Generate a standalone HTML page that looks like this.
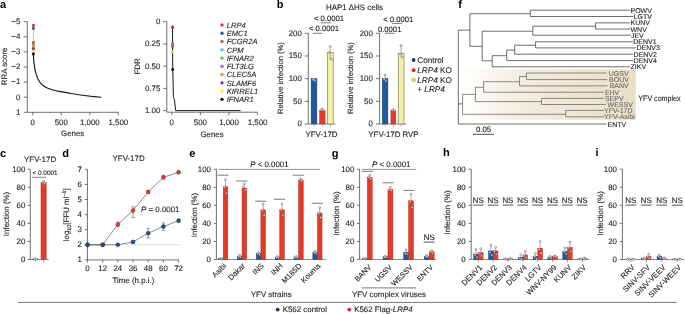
<!DOCTYPE html>
<html><head><meta charset="utf-8"><style>
html,body{margin:0;padding:0;background:#fff;overflow:hidden;}
svg{display:block;font-family:"Liberation Sans",sans-serif;will-change:transform;text-rendering:geometricPrecision;}
</style></head><body>
<svg width="685" height="314" viewBox="0 0 685 314">
<rect width="685" height="314" fill="#fff"/>
<text x="0" y="7.8" font-size="11" font-weight="bold" fill="#000">a</text>
<line x1="27.30" y1="21.70" x2="27.30" y2="112.30" stroke="#4d4d4d" stroke-width="0.8" />
<line x1="23.70" y1="21.70" x2="27.30" y2="21.70" stroke="#4d4d4d" stroke-width="0.8" />
<text x="20.30" y="24.07" font-size="7.9" text-anchor="end" fill="#231f20" stroke="#231f20" stroke-width="0.12" >−5</text>
<line x1="23.70" y1="36.80" x2="27.30" y2="36.80" stroke="#4d4d4d" stroke-width="0.8" />
<text x="20.30" y="39.17" font-size="7.9" text-anchor="end" fill="#231f20" stroke="#231f20" stroke-width="0.12" >−4</text>
<line x1="23.70" y1="51.90" x2="27.30" y2="51.90" stroke="#4d4d4d" stroke-width="0.8" />
<text x="20.30" y="54.27" font-size="7.9" text-anchor="end" fill="#231f20" stroke="#231f20" stroke-width="0.12" >−3</text>
<line x1="23.70" y1="67.00" x2="27.30" y2="67.00" stroke="#4d4d4d" stroke-width="0.8" />
<text x="20.30" y="69.37" font-size="7.9" text-anchor="end" fill="#231f20" stroke="#231f20" stroke-width="0.12" >−2</text>
<line x1="23.70" y1="82.10" x2="27.30" y2="82.10" stroke="#4d4d4d" stroke-width="0.8" />
<text x="20.30" y="84.47" font-size="7.9" text-anchor="end" fill="#231f20" stroke="#231f20" stroke-width="0.12" >−1</text>
<line x1="23.70" y1="97.20" x2="27.30" y2="97.20" stroke="#4d4d4d" stroke-width="0.8" />
<text x="20.30" y="99.57" font-size="7.9" text-anchor="end" fill="#231f20" stroke="#231f20" stroke-width="0.12" >0</text>
<line x1="23.70" y1="112.30" x2="27.30" y2="112.30" stroke="#4d4d4d" stroke-width="0.8" />
<text x="20.30" y="114.67" font-size="7.9" text-anchor="end" fill="#231f20" stroke="#231f20" stroke-width="0.12" >1</text>
<line x1="27.30" y1="112.30" x2="118.30" y2="112.30" stroke="#4d4d4d" stroke-width="0.8" />
<line x1="32.80" y1="112.30" x2="32.80" y2="115.30" stroke="#4d4d4d" stroke-width="0.8" />
<line x1="61.30" y1="112.30" x2="61.30" y2="115.30" stroke="#4d4d4d" stroke-width="0.8" />
<line x1="89.80" y1="112.30" x2="89.80" y2="115.30" stroke="#4d4d4d" stroke-width="0.8" />
<line x1="118.30" y1="112.30" x2="118.30" y2="115.30" stroke="#4d4d4d" stroke-width="0.8" />
<text x="32.80" y="125.00" font-size="7.9" text-anchor="middle" fill="#231f20" stroke="#231f20" stroke-width="0.12" >0</text>
<text x="61.30" y="125.00" font-size="7.9" text-anchor="middle" fill="#231f20" stroke="#231f20" stroke-width="0.12" >500</text>
<text x="89.80" y="125.00" font-size="7.9" text-anchor="middle" fill="#231f20" stroke="#231f20" stroke-width="0.12" >1,000</text>
<text x="118.30" y="125.00" font-size="7.9" text-anchor="middle" fill="#231f20" stroke="#231f20" stroke-width="0.12" >1,500</text>
<text x="72.70" y="136.40" font-size="7.9" text-anchor="middle" fill="#231f20" stroke="#231f20" stroke-width="0.12" >Genes</text>
<text x="0" y="0" font-size="7.9" text-anchor="middle" fill="#231f20" stroke="#231f20" stroke-width="0.12" transform="translate(6.84,66.40) rotate(-90)">RRA score</text>
<line x1="33.40" y1="25.50" x2="33.40" y2="53.80" stroke="#9a9a9a" stroke-width="0.6" />
<path d="M33.40,53.80 C33.44,54.77 33.51,57.78 33.65,59.60 C33.79,61.42 34.01,63.00 34.25,64.70 C34.49,66.40 34.74,68.10 35.10,69.80 C35.46,71.50 35.93,73.40 36.40,74.90 C36.87,76.40 37.27,77.52 37.90,78.80 C38.53,80.08 39.28,81.43 40.20,82.60 C41.12,83.77 42.13,84.85 43.40,85.80 C44.67,86.75 46.22,87.60 47.80,88.30 C49.38,89.00 50.98,89.48 52.90,90.00 C54.82,90.52 56.78,90.92 59.30,91.40 C61.82,91.88 64.47,92.30 68.00,92.90 C71.53,93.50 76.83,94.45 80.50,95.00 C84.17,95.55 86.63,95.82 90.00,96.20 C93.37,96.58 98.92,97.12 100.70,97.30" fill="none" stroke="#1a1a1a" stroke-width="1.15" stroke-linecap="round"/>
<circle cx="33.40" cy="53.90" r="1.55" fill="#111111" stroke="none" stroke-width="0.4"/>
<circle cx="33.40" cy="50.30" r="1.55" fill="#f2e22a" stroke="none" stroke-width="0.4"/>
<circle cx="33.40" cy="48.50" r="1.55" fill="#7a2a9a" stroke="none" stroke-width="0.4"/>
<circle cx="33.40" cy="44.60" r="1.55" fill="#4cc3d9" stroke="none" stroke-width="0.4"/>
<circle cx="33.40" cy="47.00" r="1.55" fill="#b05fc0" stroke="none" stroke-width="0.4"/>
<circle cx="33.40" cy="45.80" r="1.55" fill="#f58a2c" stroke="none" stroke-width="0.4"/>
<circle cx="33.40" cy="43.70" r="1.55" fill="#5db847" stroke="none" stroke-width="0.4"/>
<circle cx="33.40" cy="42.30" r="1.55" fill="#a0704a" stroke="none" stroke-width="0.4"/>
<circle cx="33.40" cy="28.20" r="1.55" fill="#2456a6" stroke="none" stroke-width="0.4"/>
<circle cx="33.40" cy="25.40" r="1.55" fill="#e8302a" stroke="none" stroke-width="0.4"/>
<line x1="166.80" y1="21.70" x2="166.80" y2="112.20" stroke="#4d4d4d" stroke-width="0.8" />
<line x1="163.20" y1="21.70" x2="166.80" y2="21.70" stroke="#4d4d4d" stroke-width="0.8" />
<text x="160.30" y="24.07" font-size="7.9" text-anchor="end" fill="#231f20" stroke="#231f20" stroke-width="0.12" >0</text>
<line x1="163.20" y1="43.92" x2="166.80" y2="43.92" stroke="#4d4d4d" stroke-width="0.8" />
<text x="160.30" y="46.29" font-size="7.9" text-anchor="end" fill="#231f20" stroke="#231f20" stroke-width="0.12" >0.25</text>
<line x1="163.20" y1="66.15" x2="166.80" y2="66.15" stroke="#4d4d4d" stroke-width="0.8" />
<text x="160.30" y="68.52" font-size="7.9" text-anchor="end" fill="#231f20" stroke="#231f20" stroke-width="0.12" >0.50</text>
<line x1="163.20" y1="88.38" x2="166.80" y2="88.38" stroke="#4d4d4d" stroke-width="0.8" />
<text x="160.30" y="90.75" font-size="7.9" text-anchor="end" fill="#231f20" stroke="#231f20" stroke-width="0.12" >0.75</text>
<line x1="163.20" y1="110.60" x2="166.80" y2="110.60" stroke="#4d4d4d" stroke-width="0.8" />
<text x="160.30" y="112.97" font-size="7.9" text-anchor="end" fill="#231f20" stroke="#231f20" stroke-width="0.12" >1.00</text>
<line x1="166.80" y1="112.20" x2="257.60" y2="112.20" stroke="#4d4d4d" stroke-width="0.8" />
<line x1="171.80" y1="112.20" x2="171.80" y2="115.20" stroke="#4d4d4d" stroke-width="0.8" />
<line x1="200.40" y1="112.20" x2="200.40" y2="115.20" stroke="#4d4d4d" stroke-width="0.8" />
<line x1="229.00" y1="112.20" x2="229.00" y2="115.20" stroke="#4d4d4d" stroke-width="0.8" />
<line x1="257.60" y1="112.20" x2="257.60" y2="115.20" stroke="#4d4d4d" stroke-width="0.8" />
<text x="171.80" y="125.00" font-size="7.9" text-anchor="middle" fill="#231f20" stroke="#231f20" stroke-width="0.12" >0</text>
<text x="200.40" y="125.00" font-size="7.9" text-anchor="middle" fill="#231f20" stroke="#231f20" stroke-width="0.12" >500</text>
<text x="229.00" y="125.00" font-size="7.9" text-anchor="middle" fill="#231f20" stroke="#231f20" stroke-width="0.12" >1,000</text>
<text x="257.60" y="125.00" font-size="7.9" text-anchor="middle" fill="#231f20" stroke="#231f20" stroke-width="0.12" >1,500</text>
<text x="212.00" y="136.50" font-size="7.9" text-anchor="middle" fill="#231f20" stroke="#231f20" stroke-width="0.12" >Genes</text>
<text x="0" y="0" font-size="7.9" text-anchor="middle" fill="#231f20" stroke="#231f20" stroke-width="0.12" transform="translate(139.74,66.50) rotate(-90)">FDR</text>
<path d="M172.5,26.8 L172.6,60 L173.4,97.3 L174.4,99.2 L175.7,110.6 L240.5,110.6" fill="none" stroke="#1a1a1a" stroke-width="1.0"/>
<circle cx="172.60" cy="69.60" r="1.5" fill="#111111" stroke="none" stroke-width="0.4"/>
<circle cx="172.60" cy="51.70" r="1.5" fill="#f2e22a" stroke="none" stroke-width="0.4"/>
<circle cx="172.60" cy="46.20" r="1.5" fill="#7a2a9a" stroke="none" stroke-width="0.4"/>
<circle cx="172.60" cy="44.60" r="1.5" fill="#f58a2c" stroke="none" stroke-width="0.4"/>
<circle cx="172.60" cy="45.80" r="1.5" fill="#b05fc0" stroke="none" stroke-width="0.4"/>
<circle cx="172.60" cy="44.00" r="1.5" fill="#5db847" stroke="none" stroke-width="0.4"/>
<circle cx="172.60" cy="43.60" r="1.5" fill="#4cc3d9" stroke="none" stroke-width="0.4"/>
<circle cx="172.60" cy="43.80" r="1.5" fill="#a0704a" stroke="none" stroke-width="0.4"/>
<circle cx="172.60" cy="27.60" r="1.5" fill="#2456a6" stroke="none" stroke-width="0.4"/>
<circle cx="172.60" cy="26.80" r="1.5" fill="#e8302a" stroke="none" stroke-width="0.4"/>
<circle cx="222.00" cy="25.00" r="1.65" fill="#e8302a" stroke="none" stroke-width="0.4"/>
<text x="226.70" y="27.75" font-size="7.6" text-anchor="start" fill="#231f20" stroke="#231f20" stroke-width="0.12" font-style="italic">LRP4</text>
<circle cx="222.00" cy="33.26" r="1.65" fill="#2456a6" stroke="none" stroke-width="0.4"/>
<text x="226.70" y="36.01" font-size="7.6" text-anchor="start" fill="#231f20" stroke="#231f20" stroke-width="0.12" font-style="italic">EMC1</text>
<circle cx="222.00" cy="41.52" r="1.65" fill="#a0704a" stroke="none" stroke-width="0.4"/>
<text x="226.70" y="44.27" font-size="7.6" text-anchor="start" fill="#231f20" stroke="#231f20" stroke-width="0.12" font-style="italic">FCGR2A</text>
<circle cx="222.00" cy="49.78" r="1.65" fill="#4cc3d9" stroke="none" stroke-width="0.4"/>
<text x="226.70" y="52.53" font-size="7.6" text-anchor="start" fill="#231f20" stroke="#231f20" stroke-width="0.12" font-style="italic">CPM</text>
<circle cx="222.00" cy="58.04" r="1.65" fill="#5db847" stroke="none" stroke-width="0.4"/>
<text x="226.70" y="60.79" font-size="7.6" text-anchor="start" fill="#231f20" stroke="#231f20" stroke-width="0.12" font-style="italic">IFNAR2</text>
<circle cx="222.00" cy="66.30" r="1.65" fill="#b05fc0" stroke="none" stroke-width="0.4"/>
<text x="226.70" y="69.05" font-size="7.6" text-anchor="start" fill="#231f20" stroke="#231f20" stroke-width="0.12" font-style="italic">FLT3LG</text>
<circle cx="222.00" cy="74.56" r="1.65" fill="#f58a2c" stroke="none" stroke-width="0.4"/>
<text x="226.70" y="77.31" font-size="7.6" text-anchor="start" fill="#231f20" stroke="#231f20" stroke-width="0.12" font-style="italic">CLEC5A</text>
<circle cx="222.00" cy="82.82" r="1.65" fill="#7a2a9a" stroke="none" stroke-width="0.4"/>
<text x="226.70" y="85.57" font-size="7.6" text-anchor="start" fill="#231f20" stroke="#231f20" stroke-width="0.12" font-style="italic">SLAMF6</text>
<circle cx="222.00" cy="91.08" r="1.65" fill="#f2e22a" stroke="none" stroke-width="0.4"/>
<text x="226.70" y="93.83" font-size="7.6" text-anchor="start" fill="#231f20" stroke="#231f20" stroke-width="0.12" font-style="italic">KIRREL1</text>
<circle cx="222.00" cy="99.34" r="1.65" fill="#111111" stroke="none" stroke-width="0.4"/>
<text x="226.70" y="102.09" font-size="7.6" text-anchor="start" fill="#231f20" stroke="#231f20" stroke-width="0.12" font-style="italic">IFNAR1</text>
<text x="276.8" y="7.8" font-size="11" font-weight="bold" fill="#000">b</text>
<text x="354.50" y="10.40" font-size="7.9" text-anchor="middle" fill="#231f20" stroke="#231f20" stroke-width="0.12" >HAP1 ΔHS cells</text>
<line x1="308.30" y1="33.30" x2="308.30" y2="124.00" stroke="#4d4d4d" stroke-width="0.8" />
<line x1="304.70" y1="124.00" x2="308.30" y2="124.00" stroke="#4d4d4d" stroke-width="0.8" />
<text x="301.80" y="126.37" font-size="7.9" text-anchor="end" fill="#231f20" stroke="#231f20" stroke-width="0.12" >0</text>
<line x1="304.70" y1="101.33" x2="308.30" y2="101.33" stroke="#4d4d4d" stroke-width="0.8" />
<text x="301.80" y="103.70" font-size="7.9" text-anchor="end" fill="#231f20" stroke="#231f20" stroke-width="0.12" >50</text>
<line x1="304.70" y1="78.65" x2="308.30" y2="78.65" stroke="#4d4d4d" stroke-width="0.8" />
<text x="301.80" y="81.02" font-size="7.9" text-anchor="end" fill="#231f20" stroke="#231f20" stroke-width="0.12" >100</text>
<line x1="304.70" y1="55.97" x2="308.30" y2="55.97" stroke="#4d4d4d" stroke-width="0.8" />
<text x="301.80" y="58.34" font-size="7.9" text-anchor="end" fill="#231f20" stroke="#231f20" stroke-width="0.12" >150</text>
<line x1="304.70" y1="33.30" x2="308.30" y2="33.30" stroke="#4d4d4d" stroke-width="0.8" />
<text x="301.80" y="35.67" font-size="7.9" text-anchor="end" fill="#231f20" stroke="#231f20" stroke-width="0.12" >200</text>
<line x1="308.30" y1="124.00" x2="335.40" y2="124.00" stroke="#6e6e6e" stroke-width="0.8" />
<line x1="314.00" y1="124.00" x2="314.00" y2="126.60" stroke="#8a8a8a" stroke-width="0.6" />
<line x1="322.40" y1="124.00" x2="322.40" y2="126.60" stroke="#8a8a8a" stroke-width="0.6" />
<line x1="330.20" y1="124.00" x2="330.20" y2="126.60" stroke="#8a8a8a" stroke-width="0.6" />
<rect x="311.10" y="78.65" width="5.80" height="45.35" fill="#1f5a9b" stroke="#173b66" stroke-width="0.45"/>
<circle cx="314.00" cy="79.10" r="0.95" fill="#ffffff" stroke="#444444" stroke-width="0.45"/>
<circle cx="313.10" cy="79.78" r="0.95" fill="#ffffff" stroke="#444444" stroke-width="0.45"/>
<circle cx="314.90" cy="80.46" r="0.95" fill="#ffffff" stroke="#444444" stroke-width="0.45"/>
<rect x="319.60" y="110.39" width="5.50" height="13.61" fill="#e63a27" stroke="#a8291b" stroke-width="0.45"/>
<line x1="322.35" y1="110.39" x2="322.35" y2="108.81" stroke="#5a5a5a" stroke-width="0.5" />
<circle cx="322.35" cy="108.81" r="0.95" fill="#ffffff" stroke="#444444" stroke-width="0.45"/>
<circle cx="321.45" cy="109.94" r="0.95" fill="#ffffff" stroke="#444444" stroke-width="0.45"/>
<circle cx="323.25" cy="110.62" r="0.95" fill="#ffffff" stroke="#444444" stroke-width="0.45"/>
<rect x="327.30" y="52.35" width="5.90" height="71.65" fill="#f4efa6" stroke="#6f6b55" stroke-width="0.6"/>
<line x1="330.25" y1="59.15" x2="330.25" y2="46.45" stroke="#5a5a5a" stroke-width="0.5" />
<line x1="328.85" y1="46.45" x2="331.65" y2="46.45" stroke="#5a5a5a" stroke-width="0.5" />
<circle cx="330.25" cy="46.45" r="0.95" fill="#ffffff" stroke="#444444" stroke-width="0.45"/>
<circle cx="329.35" cy="52.35" r="0.95" fill="#ffffff" stroke="#444444" stroke-width="0.45"/>
<circle cx="331.15" cy="59.15" r="0.95" fill="#ffffff" stroke="#444444" stroke-width="0.45"/>
<line x1="379.60" y1="33.30" x2="379.60" y2="124.00" stroke="#4d4d4d" stroke-width="0.8" />
<line x1="376.00" y1="124.00" x2="379.60" y2="124.00" stroke="#4d4d4d" stroke-width="0.8" />
<text x="372.80" y="126.37" font-size="7.9" text-anchor="end" fill="#231f20" stroke="#231f20" stroke-width="0.12" >0</text>
<line x1="376.00" y1="101.33" x2="379.60" y2="101.33" stroke="#4d4d4d" stroke-width="0.8" />
<text x="372.80" y="103.70" font-size="7.9" text-anchor="end" fill="#231f20" stroke="#231f20" stroke-width="0.12" >50</text>
<line x1="376.00" y1="78.65" x2="379.60" y2="78.65" stroke="#4d4d4d" stroke-width="0.8" />
<text x="372.80" y="81.02" font-size="7.9" text-anchor="end" fill="#231f20" stroke="#231f20" stroke-width="0.12" >100</text>
<line x1="376.00" y1="55.97" x2="379.60" y2="55.97" stroke="#4d4d4d" stroke-width="0.8" />
<text x="372.80" y="58.34" font-size="7.9" text-anchor="end" fill="#231f20" stroke="#231f20" stroke-width="0.12" >150</text>
<line x1="376.00" y1="33.30" x2="379.60" y2="33.30" stroke="#4d4d4d" stroke-width="0.8" />
<text x="372.80" y="35.67" font-size="7.9" text-anchor="end" fill="#231f20" stroke="#231f20" stroke-width="0.12" >200</text>
<line x1="379.60" y1="124.00" x2="406.50" y2="124.00" stroke="#6e6e6e" stroke-width="0.8" />
<line x1="385.10" y1="124.00" x2="385.10" y2="126.60" stroke="#8a8a8a" stroke-width="0.6" />
<line x1="393.30" y1="124.00" x2="393.30" y2="126.60" stroke="#8a8a8a" stroke-width="0.6" />
<line x1="401.10" y1="124.00" x2="401.10" y2="126.60" stroke="#8a8a8a" stroke-width="0.6" />
<rect x="382.20" y="78.65" width="5.70" height="45.35" fill="#1f5a9b" stroke="#173b66" stroke-width="0.45"/>
<line x1="385.05" y1="78.65" x2="385.05" y2="75.02" stroke="#5a5a5a" stroke-width="0.5" />
<circle cx="385.05" cy="75.02" r="0.95" fill="#ffffff" stroke="#444444" stroke-width="0.45"/>
<circle cx="384.15" cy="79.56" r="0.95" fill="#ffffff" stroke="#444444" stroke-width="0.45"/>
<circle cx="385.95" cy="80.92" r="0.95" fill="#ffffff" stroke="#444444" stroke-width="0.45"/>
<rect x="390.90" y="110.39" width="4.90" height="13.61" fill="#e63a27" stroke="#a8291b" stroke-width="0.45"/>
<line x1="393.35" y1="110.39" x2="393.35" y2="109.71" stroke="#5a5a5a" stroke-width="0.5" />
<circle cx="393.35" cy="109.71" r="0.95" fill="#ffffff" stroke="#444444" stroke-width="0.45"/>
<circle cx="392.45" cy="110.17" r="0.95" fill="#ffffff" stroke="#444444" stroke-width="0.45"/>
<circle cx="394.25" cy="110.62" r="0.95" fill="#ffffff" stroke="#444444" stroke-width="0.45"/>
<rect x="398.20" y="53.25" width="5.80" height="70.75" fill="#f4efa6" stroke="#6f6b55" stroke-width="0.6"/>
<line x1="401.10" y1="56.88" x2="401.10" y2="45.54" stroke="#5a5a5a" stroke-width="0.5" />
<line x1="399.70" y1="45.54" x2="402.50" y2="45.54" stroke="#5a5a5a" stroke-width="0.5" />
<circle cx="401.10" cy="45.54" r="0.95" fill="#ffffff" stroke="#444444" stroke-width="0.45"/>
<circle cx="400.20" cy="53.71" r="0.95" fill="#ffffff" stroke="#444444" stroke-width="0.45"/>
<circle cx="402.00" cy="56.88" r="0.95" fill="#ffffff" stroke="#444444" stroke-width="0.45"/>
<text x="321.50" y="136.80" font-size="7.9" text-anchor="middle" fill="#231f20" stroke="#231f20" stroke-width="0.12" >YFV-17D</text>
<text x="393.50" y="136.80" font-size="7.9" text-anchor="middle" fill="#231f20" stroke="#231f20" stroke-width="0.12" >YFV-17D RVP</text>
<text x="0" y="0" font-size="7.6" text-anchor="middle" fill="#231f20" stroke="#231f20" stroke-width="0.12" transform="translate(283.24,78.00) rotate(-90)">Relative infection (%)</text>
<text x="0" y="0" font-size="7.6" text-anchor="middle" fill="#231f20" stroke="#231f20" stroke-width="0.12" transform="translate(353.24,78.00) rotate(-90)">Relative infection (%)</text>
<text x="313.90" y="20.50" font-size="7.7" text-anchor="start" fill="#231f20" stroke="#231f20" stroke-width="0.12" >&lt; 0.0001</text>
<line x1="321.10" y1="22.80" x2="331.10" y2="22.80" stroke="#5a5a5a" stroke-width="0.8" />
<text x="308.90" y="30.60" font-size="7.7" text-anchor="start" fill="#231f20" stroke="#231f20" stroke-width="0.12" >&lt; 0.0001</text>
<line x1="312.80" y1="33.30" x2="322.00" y2="33.30" stroke="#5a5a5a" stroke-width="0.8" />
<text x="383.20" y="21.50" font-size="7.7" text-anchor="start" fill="#231f20" stroke="#231f20" stroke-width="0.12" >&lt; 0.0001</text>
<line x1="392.10" y1="23.40" x2="401.80" y2="23.40" stroke="#5a5a5a" stroke-width="0.8" />
<text x="377.90" y="31.50" font-size="7.7" text-anchor="start" fill="#231f20" stroke="#231f20" stroke-width="0.12" >0.0001</text>
<line x1="385.10" y1="33.30" x2="394.20" y2="33.30" stroke="#5a5a5a" stroke-width="0.8" />
<circle cx="413.60" cy="60.00" r="1.9" fill="#1f3588" stroke="none" stroke-width="0.4"/>
<text x="417.30" y="62.90" font-size="8.2" text-anchor="start" fill="#231f20" stroke="#231f20" stroke-width="0.12" >Control</text>
<circle cx="413.60" cy="70.20" r="1.9" fill="#d8282a" stroke="none" stroke-width="0.4"/>
<text x="417.30" y="73.10" font-size="8.2" text-anchor="start" fill="#231f20" stroke="#231f20" stroke-width="0.12" ><tspan font-style="italic">LRP4</tspan> KO</text>
<circle cx="413.60" cy="79.80" r="1.9" fill="#f3e33c" stroke="#666" stroke-width="0.4"/>
<text x="417.30" y="82.70" font-size="8.2" text-anchor="start" fill="#231f20" stroke="#231f20" stroke-width="0.12" ><tspan font-style="italic">LRP4</tspan> KO</text>
<text x="417.30" y="92.30" font-size="8.2" text-anchor="start" fill="#231f20" stroke="#231f20" stroke-width="0.12" >+ <tspan font-style="italic">LRP4</tspan></text>
<text x="458.3" y="7.7" font-size="11" font-weight="bold" fill="#000">f</text>
<defs><linearGradient id="yg" x1="0" x2="1" y1="0" y2="0"><stop offset="0" stop-color="#ffffff"/><stop offset="0.35" stop-color="#f3ede0"/><stop offset="1" stop-color="#e9dfc6"/></linearGradient></defs>
<rect x="460.50" y="69.30" width="175.30" height="50.50" fill="url(#yg)" stroke="none" stroke-width="0.5"/>
<line x1="458.30" y1="30.10" x2="458.30" y2="124.00" stroke="#474747" stroke-width="0.8" />
<line x1="458.30" y1="30.10" x2="469.90" y2="30.10" stroke="#474747" stroke-width="0.8" />
<line x1="458.30" y1="103.90" x2="462.60" y2="103.90" stroke="#474747" stroke-width="0.8" />
<line x1="458.30" y1="124.00" x2="606.50" y2="124.00" stroke="#474747" stroke-width="0.8" />
<line x1="469.90" y1="13.70" x2="469.90" y2="46.30" stroke="#474747" stroke-width="0.8" />
<line x1="469.90" y1="13.70" x2="530.30" y2="13.70" stroke="#474747" stroke-width="0.8" />
<line x1="469.90" y1="46.30" x2="482.20" y2="46.30" stroke="#474747" stroke-width="0.8" />
<line x1="530.30" y1="10.20" x2="530.30" y2="16.50" stroke="#474747" stroke-width="0.8" />
<line x1="530.30" y1="10.20" x2="630.20" y2="10.20" stroke="#474747" stroke-width="0.8" />
<line x1="530.30" y1="16.50" x2="633.30" y2="16.50" stroke="#474747" stroke-width="0.8" />
<line x1="482.20" y1="31.20" x2="482.20" y2="60.80" stroke="#474747" stroke-width="0.8" />
<line x1="482.20" y1="31.20" x2="532.80" y2="31.20" stroke="#474747" stroke-width="0.8" />
<line x1="482.20" y1="60.80" x2="492.20" y2="60.80" stroke="#474747" stroke-width="0.8" />
<line x1="532.80" y1="26.20" x2="532.80" y2="35.20" stroke="#474747" stroke-width="0.8" />
<line x1="532.80" y1="26.20" x2="595.60" y2="26.20" stroke="#474747" stroke-width="0.8" />
<line x1="532.80" y1="35.20" x2="630.60" y2="35.20" stroke="#474747" stroke-width="0.8" />
<line x1="595.60" y1="22.90" x2="595.60" y2="29.10" stroke="#474747" stroke-width="0.8" />
<line x1="595.60" y1="22.90" x2="630.20" y2="22.90" stroke="#474747" stroke-width="0.8" />
<line x1="595.60" y1="29.10" x2="630.20" y2="29.10" stroke="#474747" stroke-width="0.8" />
<line x1="492.20" y1="55.70" x2="492.20" y2="66.80" stroke="#474747" stroke-width="0.8" />
<line x1="492.20" y1="55.70" x2="506.70" y2="55.70" stroke="#474747" stroke-width="0.8" />
<line x1="492.20" y1="66.80" x2="630.20" y2="66.80" stroke="#474747" stroke-width="0.8" />
<line x1="506.70" y1="50.10" x2="506.70" y2="60.60" stroke="#474747" stroke-width="0.8" />
<line x1="506.70" y1="50.10" x2="514.70" y2="50.10" stroke="#474747" stroke-width="0.8" />
<line x1="506.70" y1="60.60" x2="633.30" y2="60.60" stroke="#474747" stroke-width="0.8" />
<line x1="514.70" y1="45.20" x2="514.70" y2="54.20" stroke="#474747" stroke-width="0.8" />
<line x1="514.70" y1="45.20" x2="535.60" y2="45.20" stroke="#474747" stroke-width="0.8" />
<line x1="514.70" y1="54.20" x2="633.30" y2="54.20" stroke="#474747" stroke-width="0.8" />
<line x1="535.60" y1="41.80" x2="535.60" y2="47.90" stroke="#474747" stroke-width="0.8" />
<line x1="535.60" y1="41.80" x2="632.90" y2="41.80" stroke="#474747" stroke-width="0.8" />
<line x1="535.60" y1="47.90" x2="636.20" y2="47.90" stroke="#474747" stroke-width="0.8" />
<line x1="462.60" y1="94.40" x2="462.60" y2="114.30" stroke="#6e6e6e" stroke-width="0.8" />
<line x1="462.60" y1="94.40" x2="475.40" y2="94.40" stroke="#6e6e6e" stroke-width="0.8" />
<line x1="462.60" y1="114.30" x2="565.70" y2="114.30" stroke="#6e6e6e" stroke-width="0.8" />
<line x1="475.40" y1="87.30" x2="475.40" y2="101.60" stroke="#6e6e6e" stroke-width="0.8" />
<line x1="475.40" y1="87.30" x2="483.60" y2="87.30" stroke="#6e6e6e" stroke-width="0.8" />
<line x1="475.40" y1="101.60" x2="541.50" y2="101.60" stroke="#6e6e6e" stroke-width="0.8" />
<line x1="483.60" y1="81.70" x2="483.60" y2="92.20" stroke="#6e6e6e" stroke-width="0.8" />
<line x1="483.60" y1="81.70" x2="519.50" y2="81.70" stroke="#6e6e6e" stroke-width="0.8" />
<line x1="483.60" y1="92.20" x2="604.00" y2="92.20" stroke="#6e6e6e" stroke-width="0.8" />
<line x1="519.50" y1="76.60" x2="519.50" y2="85.90" stroke="#6e6e6e" stroke-width="0.8" />
<line x1="519.50" y1="76.60" x2="526.40" y2="76.60" stroke="#6e6e6e" stroke-width="0.8" />
<line x1="519.50" y1="85.90" x2="607.50" y2="85.90" stroke="#6e6e6e" stroke-width="0.8" />
<line x1="526.40" y1="73.00" x2="526.40" y2="79.60" stroke="#6e6e6e" stroke-width="0.8" />
<line x1="526.40" y1="73.00" x2="606.50" y2="73.00" stroke="#6e6e6e" stroke-width="0.8" />
<line x1="526.40" y1="79.60" x2="607.30" y2="79.60" stroke="#6e6e6e" stroke-width="0.8" />
<line x1="541.50" y1="98.40" x2="541.50" y2="104.50" stroke="#6e6e6e" stroke-width="0.8" />
<line x1="541.50" y1="98.40" x2="604.00" y2="98.40" stroke="#6e6e6e" stroke-width="0.8" />
<line x1="541.50" y1="104.50" x2="606.00" y2="104.50" stroke="#6e6e6e" stroke-width="0.8" />
<line x1="565.70" y1="110.40" x2="565.70" y2="116.80" stroke="#6e6e6e" stroke-width="0.8" />
<line x1="565.70" y1="110.40" x2="604.00" y2="110.40" stroke="#6e6e6e" stroke-width="0.8" />
<line x1="565.70" y1="116.80" x2="604.00" y2="116.80" stroke="#6e6e6e" stroke-width="0.8" />
<text x="630.50" y="12.75" font-size="7.0" text-anchor="start" fill="#231f20" stroke="#231f20" stroke-width="0.12" >POWV</text>
<text x="633.60" y="19.05" font-size="7.0" text-anchor="start" fill="#231f20" stroke="#231f20" stroke-width="0.12" >LGTV</text>
<text x="630.50" y="25.45" font-size="7.0" text-anchor="start" fill="#231f20" stroke="#231f20" stroke-width="0.12" >KUNV</text>
<text x="630.50" y="31.65" font-size="7.0" text-anchor="start" fill="#231f20" stroke="#231f20" stroke-width="0.12" >WNV</text>
<text x="630.90" y="37.75" font-size="7.0" text-anchor="start" fill="#231f20" stroke="#231f20" stroke-width="0.12" >JEV</text>
<text x="633.20" y="44.35" font-size="7.0" text-anchor="start" fill="#231f20" stroke="#231f20" stroke-width="0.12" >DENV1</text>
<text x="636.50" y="50.45" font-size="7.0" text-anchor="start" fill="#231f20" stroke="#231f20" stroke-width="0.12" >DENV3</text>
<text x="633.60" y="56.75" font-size="7.0" text-anchor="start" fill="#231f20" stroke="#231f20" stroke-width="0.12" >DENV2</text>
<text x="633.60" y="63.15" font-size="7.0" text-anchor="start" fill="#231f20" stroke="#231f20" stroke-width="0.12" >DENV4</text>
<text x="630.50" y="69.35" font-size="7.0" text-anchor="start" fill="#231f20" stroke="#231f20" stroke-width="0.12" >ZIKV</text>
<text x="607.60" y="126.55" font-size="7.0" text-anchor="start" fill="#231f20" stroke="#231f20" stroke-width="0.12" >ENTV</text>
<text x="608.80" y="75.55" font-size="7.0" text-anchor="start" fill="#6a6a6a" stroke="#6a6a6a" stroke-width="0.12" >UGSV</text>
<text x="609.10" y="82.15" font-size="7.0" text-anchor="start" fill="#6a6a6a" stroke="#6a6a6a" stroke-width="0.12" >BOUV</text>
<text x="609.70" y="88.45" font-size="7.0" text-anchor="start" fill="#6a6a6a" stroke="#6a6a6a" stroke-width="0.12" >BANV</text>
<text x="604.90" y="94.75" font-size="7.0" text-anchor="start" fill="#6a6a6a" stroke="#6a6a6a" stroke-width="0.12" >EHV</text>
<text x="604.90" y="100.95" font-size="7.0" text-anchor="start" fill="#6a6a6a" stroke="#6a6a6a" stroke-width="0.12" >SEPV</text>
<text x="607.60" y="107.05" font-size="7.0" text-anchor="start" fill="#6a6a6a" stroke="#6a6a6a" stroke-width="0.12" >WESSV</text>
<text x="604.10" y="112.95" font-size="7.0" text-anchor="start" fill="#6a6a6a" stroke="#6a6a6a" stroke-width="0.12" >YFV-17D</text>
<text x="604.10" y="119.35" font-size="7.0" text-anchor="start" fill="#6a6a6a" stroke="#6a6a6a" stroke-width="0.12" >YFV-Asibi</text>
<text x="638.30" y="100.95" font-size="7.9" text-anchor="start" fill="#231f20" stroke="#231f20" stroke-width="0.12" textLength="42.3" lengthAdjust="spacingAndGlyphs">YFV complex</text>
<line x1="473.00" y1="134.30" x2="493.90" y2="134.30" stroke="#3a3a3a" stroke-width="0.9" />
<text x="483.50" y="132.40" font-size="7.8" text-anchor="middle" fill="#231f20" stroke="#231f20" stroke-width="0.12" >0.05</text>
<text x="0" y="156.6" font-size="11" font-weight="bold" fill="#000">c</text>
<text x="40.10" y="161.50" font-size="7.9" text-anchor="middle" fill="#231f20" stroke="#231f20" stroke-width="0.12" >YFV-17D</text>
<line x1="30.30" y1="169.20" x2="30.30" y2="259.50" stroke="#4d4d4d" stroke-width="0.8" />
<line x1="27.70" y1="259.50" x2="30.30" y2="259.50" stroke="#4d4d4d" stroke-width="0.8" />
<text x="25.30" y="261.87" font-size="7.9" text-anchor="end" fill="#231f20" stroke="#231f20" stroke-width="0.12" >0</text>
<line x1="27.70" y1="241.44" x2="30.30" y2="241.44" stroke="#4d4d4d" stroke-width="0.8" />
<text x="25.30" y="243.81" font-size="7.9" text-anchor="end" fill="#231f20" stroke="#231f20" stroke-width="0.12" >20</text>
<line x1="27.70" y1="223.38" x2="30.30" y2="223.38" stroke="#4d4d4d" stroke-width="0.8" />
<text x="25.30" y="225.75" font-size="7.9" text-anchor="end" fill="#231f20" stroke="#231f20" stroke-width="0.12" >40</text>
<line x1="27.70" y1="205.32" x2="30.30" y2="205.32" stroke="#4d4d4d" stroke-width="0.8" />
<text x="25.30" y="207.69" font-size="7.9" text-anchor="end" fill="#231f20" stroke="#231f20" stroke-width="0.12" >60</text>
<line x1="27.70" y1="187.26" x2="30.30" y2="187.26" stroke="#4d4d4d" stroke-width="0.8" />
<text x="25.30" y="189.63" font-size="7.9" text-anchor="end" fill="#231f20" stroke="#231f20" stroke-width="0.12" >80</text>
<line x1="27.70" y1="169.20" x2="30.30" y2="169.20" stroke="#4d4d4d" stroke-width="0.8" />
<text x="25.30" y="171.57" font-size="7.9" text-anchor="end" fill="#231f20" stroke="#231f20" stroke-width="0.12" >100</text>
<line x1="30.30" y1="259.50" x2="48.70" y2="259.50" stroke="#6e6e6e" stroke-width="0.8" />
<line x1="35.40" y1="259.50" x2="35.40" y2="262.00" stroke="#6e6e6e" stroke-width="0.6" />
<line x1="43.60" y1="259.50" x2="43.60" y2="262.00" stroke="#6e6e6e" stroke-width="0.6" />
<rect x="32.80" y="258.96" width="5.20" height="0.54" fill="#1f5a9b" stroke="#173b66" stroke-width="0.45"/>
<circle cx="35.40" cy="258.78" r="0.95" fill="#ffffff" stroke="#444444" stroke-width="0.45"/>
<circle cx="34.50" cy="259.05" r="0.95" fill="#ffffff" stroke="#444444" stroke-width="0.45"/>
<circle cx="36.30" cy="259.14" r="0.95" fill="#ffffff" stroke="#444444" stroke-width="0.45"/>
<rect x="41.00" y="182.75" width="5.20" height="76.75" fill="#e63a27" stroke="#a8291b" stroke-width="0.45"/>
<line x1="43.60" y1="182.75" x2="43.60" y2="181.39" stroke="#5a5a5a" stroke-width="0.5" />
<circle cx="43.60" cy="181.39" r="0.95" fill="#ffffff" stroke="#444444" stroke-width="0.45"/>
<circle cx="42.70" cy="182.29" r="0.95" fill="#ffffff" stroke="#444444" stroke-width="0.45"/>
<circle cx="44.50" cy="183.65" r="0.95" fill="#ffffff" stroke="#444444" stroke-width="0.45"/>
<text x="32.50" y="175.00" font-size="6.4" text-anchor="start" fill="#231f20" stroke="#231f20" stroke-width="0.12" >&lt; 0.0001</text>
<line x1="32.10" y1="177.30" x2="46.00" y2="177.30" stroke="#5a5a5a" stroke-width="0.75" />
<text x="0" y="0" font-size="7.9" text-anchor="middle" fill="#231f20" stroke="#231f20" stroke-width="0.12" transform="translate(9.14,214.00) rotate(-90)">Infection (%)</text>
<text x="62.3" y="156.6" font-size="11" font-weight="bold" fill="#000">d</text>
<text x="128.60" y="161.30" font-size="7.9" text-anchor="middle" fill="#231f20" stroke="#231f20" stroke-width="0.12" >YFV-17D</text>
<line x1="87.40" y1="169.30" x2="87.40" y2="259.90" stroke="#4d4d4d" stroke-width="0.8" />
<line x1="84.80" y1="259.90" x2="87.40" y2="259.90" stroke="#4d4d4d" stroke-width="0.8" />
<text x="82.00" y="262.27" font-size="7.9" text-anchor="end" fill="#231f20" stroke="#231f20" stroke-width="0.12" >1</text>
<line x1="84.80" y1="244.80" x2="87.40" y2="244.80" stroke="#4d4d4d" stroke-width="0.8" />
<text x="82.00" y="247.17" font-size="7.9" text-anchor="end" fill="#231f20" stroke="#231f20" stroke-width="0.12" >2</text>
<line x1="84.80" y1="229.70" x2="87.40" y2="229.70" stroke="#4d4d4d" stroke-width="0.8" />
<text x="82.00" y="232.07" font-size="7.9" text-anchor="end" fill="#231f20" stroke="#231f20" stroke-width="0.12" >3</text>
<line x1="84.80" y1="214.60" x2="87.40" y2="214.60" stroke="#4d4d4d" stroke-width="0.8" />
<text x="82.00" y="216.97" font-size="7.9" text-anchor="end" fill="#231f20" stroke="#231f20" stroke-width="0.12" >4</text>
<line x1="84.80" y1="199.50" x2="87.40" y2="199.50" stroke="#4d4d4d" stroke-width="0.8" />
<text x="82.00" y="201.87" font-size="7.9" text-anchor="end" fill="#231f20" stroke="#231f20" stroke-width="0.12" >5</text>
<line x1="84.80" y1="184.40" x2="87.40" y2="184.40" stroke="#4d4d4d" stroke-width="0.8" />
<text x="82.00" y="186.77" font-size="7.9" text-anchor="end" fill="#231f20" stroke="#231f20" stroke-width="0.12" >6</text>
<line x1="84.80" y1="169.30" x2="87.40" y2="169.30" stroke="#4d4d4d" stroke-width="0.8" />
<text x="82.00" y="171.67" font-size="7.9" text-anchor="end" fill="#231f20" stroke="#231f20" stroke-width="0.12" >7</text>
<line x1="87.40" y1="259.90" x2="178.58" y2="259.90" stroke="#4d4d4d" stroke-width="0.8" />
<line x1="87.50" y1="259.90" x2="87.50" y2="262.50" stroke="#4d4d4d" stroke-width="0.8" />
<line x1="102.68" y1="259.90" x2="102.68" y2="262.50" stroke="#4d4d4d" stroke-width="0.8" />
<line x1="117.86" y1="259.90" x2="117.86" y2="262.50" stroke="#4d4d4d" stroke-width="0.8" />
<line x1="133.04" y1="259.90" x2="133.04" y2="262.50" stroke="#4d4d4d" stroke-width="0.8" />
<line x1="148.22" y1="259.90" x2="148.22" y2="262.50" stroke="#4d4d4d" stroke-width="0.8" />
<line x1="163.40" y1="259.90" x2="163.40" y2="262.50" stroke="#4d4d4d" stroke-width="0.8" />
<line x1="178.58" y1="259.90" x2="178.58" y2="262.50" stroke="#4d4d4d" stroke-width="0.8" />
<text x="87.50" y="271.00" font-size="7.9" text-anchor="middle" fill="#231f20" stroke="#231f20" stroke-width="0.12" >0</text>
<text x="102.68" y="271.00" font-size="7.9" text-anchor="middle" fill="#231f20" stroke="#231f20" stroke-width="0.12" >12</text>
<text x="117.86" y="271.00" font-size="7.9" text-anchor="middle" fill="#231f20" stroke="#231f20" stroke-width="0.12" >24</text>
<text x="133.04" y="271.00" font-size="7.9" text-anchor="middle" fill="#231f20" stroke="#231f20" stroke-width="0.12" >36</text>
<text x="148.22" y="271.00" font-size="7.9" text-anchor="middle" fill="#231f20" stroke="#231f20" stroke-width="0.12" >48</text>
<text x="163.40" y="271.00" font-size="7.9" text-anchor="middle" fill="#231f20" stroke="#231f20" stroke-width="0.12" >60</text>
<text x="178.58" y="271.00" font-size="7.9" text-anchor="middle" fill="#231f20" stroke="#231f20" stroke-width="0.12" >72</text>
<text x="133.40" y="283.00" font-size="7.9" text-anchor="middle" fill="#231f20" stroke="#231f20" stroke-width="0.12" >Time (h.p.i.)</text>
<text x="0" y="0" font-size="7.9" text-anchor="middle" fill="#231f20" stroke="#231f20" stroke-width="0.12" transform="translate(69.0,214.7) rotate(-90)">log<tspan font-size="5.4" dy="1.6">10</tspan><tspan dy="-1.6">[FFU ml</tspan><tspan font-size="5.4" dy="-2.8">−1</tspan><tspan dy="2.8">]</tspan></text>
<line x1="87.40" y1="244.80" x2="181.00" y2="244.80" stroke="#9a9a9a" stroke-width="0.7" stroke-dasharray="0.9,1.1"/>
<polyline points="87.50,244.80 102.68,244.80 117.86,224.42 133.04,210.52 148.22,191.95 163.40,177.30 178.58,172.32" fill="none" stroke="#555" stroke-width="0.7"/>
<polyline points="87.50,244.80 102.68,244.80 117.86,244.80 133.04,241.93 148.22,233.17 163.40,226.53 178.58,220.64" fill="none" stroke="#555" stroke-width="0.7"/>
<line x1="117.86" y1="222.15" x2="117.86" y2="226.68" stroke="#555" stroke-width="0.6" />
<line x1="116.26" y1="222.15" x2="119.46" y2="222.15" stroke="#555" stroke-width="0.6" />
<line x1="116.26" y1="226.68" x2="119.46" y2="226.68" stroke="#555" stroke-width="0.6" />
<line x1="133.04" y1="206.75" x2="133.04" y2="217.62" stroke="#555" stroke-width="0.6" />
<line x1="131.44" y1="206.75" x2="134.64" y2="206.75" stroke="#555" stroke-width="0.6" />
<line x1="131.44" y1="217.62" x2="134.64" y2="217.62" stroke="#555" stroke-width="0.6" />
<line x1="148.22" y1="190.44" x2="148.22" y2="193.46" stroke="#555" stroke-width="0.6" />
<line x1="146.62" y1="190.44" x2="149.82" y2="190.44" stroke="#555" stroke-width="0.6" />
<line x1="146.62" y1="193.46" x2="149.82" y2="193.46" stroke="#555" stroke-width="0.6" />
<line x1="163.40" y1="175.34" x2="163.40" y2="179.12" stroke="#555" stroke-width="0.6" />
<line x1="161.80" y1="175.34" x2="165.00" y2="175.34" stroke="#555" stroke-width="0.6" />
<line x1="161.80" y1="179.12" x2="165.00" y2="179.12" stroke="#555" stroke-width="0.6" />
<line x1="148.22" y1="228.49" x2="148.22" y2="238.00" stroke="#555" stroke-width="0.6" />
<line x1="146.62" y1="228.49" x2="149.82" y2="228.49" stroke="#555" stroke-width="0.6" />
<line x1="146.62" y1="238.00" x2="149.82" y2="238.00" stroke="#555" stroke-width="0.6" />
<line x1="163.40" y1="222.91" x2="163.40" y2="230.46" stroke="#555" stroke-width="0.6" />
<line x1="161.80" y1="222.91" x2="165.00" y2="222.91" stroke="#555" stroke-width="0.6" />
<line x1="161.80" y1="230.46" x2="165.00" y2="230.46" stroke="#555" stroke-width="0.6" />
<line x1="178.58" y1="219.13" x2="178.58" y2="222.15" stroke="#555" stroke-width="0.6" />
<line x1="176.98" y1="219.13" x2="180.18" y2="219.13" stroke="#555" stroke-width="0.6" />
<line x1="176.98" y1="222.15" x2="180.18" y2="222.15" stroke="#555" stroke-width="0.6" />
<line x1="133.04" y1="240.87" x2="133.04" y2="242.99" stroke="#555" stroke-width="0.6" />
<line x1="131.44" y1="240.87" x2="134.64" y2="240.87" stroke="#555" stroke-width="0.6" />
<line x1="131.44" y1="242.99" x2="134.64" y2="242.99" stroke="#555" stroke-width="0.6" />
<circle cx="87.50" cy="244.80" r="1.95" fill="#e63a27" stroke="#6a2018" stroke-width="0.45"/>
<circle cx="102.68" cy="244.80" r="1.95" fill="#e63a27" stroke="#6a2018" stroke-width="0.45"/>
<circle cx="117.86" cy="224.42" r="1.95" fill="#e63a27" stroke="#6a2018" stroke-width="0.45"/>
<circle cx="133.04" cy="210.52" r="1.95" fill="#e63a27" stroke="#6a2018" stroke-width="0.45"/>
<circle cx="148.22" cy="191.95" r="1.95" fill="#e63a27" stroke="#6a2018" stroke-width="0.45"/>
<circle cx="163.40" cy="177.30" r="1.95" fill="#e63a27" stroke="#6a2018" stroke-width="0.45"/>
<circle cx="178.58" cy="172.32" r="1.95" fill="#e63a27" stroke="#6a2018" stroke-width="0.45"/>
<circle cx="87.50" cy="244.80" r="1.95" fill="#22508f" stroke="#102848" stroke-width="0.45"/>
<circle cx="102.68" cy="244.80" r="1.95" fill="#22508f" stroke="#102848" stroke-width="0.45"/>
<circle cx="117.86" cy="244.80" r="1.95" fill="#22508f" stroke="#102848" stroke-width="0.45"/>
<circle cx="133.04" cy="241.93" r="1.95" fill="#22508f" stroke="#102848" stroke-width="0.45"/>
<circle cx="148.22" cy="233.17" r="1.95" fill="#22508f" stroke="#102848" stroke-width="0.45"/>
<circle cx="163.40" cy="226.53" r="1.95" fill="#22508f" stroke="#102848" stroke-width="0.45"/>
<circle cx="178.58" cy="220.64" r="1.95" fill="#22508f" stroke="#102848" stroke-width="0.45"/>
<text x="141.10" y="212.00" font-size="7.9" text-anchor="start" fill="#231f20" stroke="#231f20" stroke-width="0.12" ><tspan font-style="italic">P</tspan> = 0.0001</text>
<text x="189.2" y="156.6" font-size="11" font-weight="bold" fill="#000">e</text>
<line x1="216.40" y1="169.20" x2="216.40" y2="259.50" stroke="#4d4d4d" stroke-width="0.8" />
<line x1="213.80" y1="259.50" x2="216.40" y2="259.50" stroke="#4d4d4d" stroke-width="0.8" />
<text x="211.00" y="261.87" font-size="7.9" text-anchor="end" fill="#231f20" stroke="#231f20" stroke-width="0.12" >0</text>
<line x1="213.80" y1="241.44" x2="216.40" y2="241.44" stroke="#4d4d4d" stroke-width="0.8" />
<text x="211.00" y="243.81" font-size="7.9" text-anchor="end" fill="#231f20" stroke="#231f20" stroke-width="0.12" >20</text>
<line x1="213.80" y1="223.38" x2="216.40" y2="223.38" stroke="#4d4d4d" stroke-width="0.8" />
<text x="211.00" y="225.75" font-size="7.9" text-anchor="end" fill="#231f20" stroke="#231f20" stroke-width="0.12" >40</text>
<line x1="213.80" y1="205.32" x2="216.40" y2="205.32" stroke="#4d4d4d" stroke-width="0.8" />
<text x="211.00" y="207.69" font-size="7.9" text-anchor="end" fill="#231f20" stroke="#231f20" stroke-width="0.12" >60</text>
<line x1="213.80" y1="187.26" x2="216.40" y2="187.26" stroke="#4d4d4d" stroke-width="0.8" />
<text x="211.00" y="189.63" font-size="7.9" text-anchor="end" fill="#231f20" stroke="#231f20" stroke-width="0.12" >80</text>
<line x1="213.80" y1="169.20" x2="216.40" y2="169.20" stroke="#4d4d4d" stroke-width="0.8" />
<text x="211.00" y="171.57" font-size="7.9" text-anchor="end" fill="#231f20" stroke="#231f20" stroke-width="0.12" >100</text>
<line x1="216.40" y1="259.50" x2="325.60" y2="259.50" stroke="#6e6e6e" stroke-width="0.8" />
<rect x="218.60" y="258.60" width="4.60" height="0.90" fill="#1f5a9b" stroke="#173b66" stroke-width="0.45"/>
<circle cx="220.90" cy="258.42" r="0.95" fill="#ffffff" stroke="#444444" stroke-width="0.45"/>
<circle cx="220.00" cy="258.69" r="0.95" fill="#ffffff" stroke="#444444" stroke-width="0.45"/>
<circle cx="221.80" cy="258.87" r="0.95" fill="#ffffff" stroke="#444444" stroke-width="0.45"/>
<rect x="223.20" y="186.81" width="4.60" height="72.69" fill="#e63a27" stroke="#a8291b" stroke-width="0.45"/>
<line x1="225.50" y1="186.81" x2="225.50" y2="179.58" stroke="#5a5a5a" stroke-width="0.5" />
<circle cx="225.50" cy="179.58" r="0.95" fill="#ffffff" stroke="#444444" stroke-width="0.45"/>
<circle cx="224.60" cy="187.26" r="0.95" fill="#ffffff" stroke="#444444" stroke-width="0.45"/>
<circle cx="226.40" cy="193.13" r="0.95" fill="#ffffff" stroke="#444444" stroke-width="0.45"/>
<text x="0" y="0" font-size="7.6" text-anchor="end" fill="#231f20" stroke="#231f20" stroke-width="0.12" transform="translate(226.70,266.40) rotate(-45)">Asibi</text>
<rect x="237.45" y="256.34" width="4.60" height="3.16" fill="#1f5a9b" stroke="#173b66" stroke-width="0.45"/>
<line x1="239.75" y1="256.34" x2="239.75" y2="255.35" stroke="#5a5a5a" stroke-width="0.5" />
<circle cx="239.75" cy="255.35" r="0.95" fill="#ffffff" stroke="#444444" stroke-width="0.45"/>
<circle cx="238.85" cy="256.43" r="0.95" fill="#ffffff" stroke="#444444" stroke-width="0.45"/>
<circle cx="240.65" cy="257.15" r="0.95" fill="#ffffff" stroke="#444444" stroke-width="0.45"/>
<rect x="242.05" y="188.16" width="4.60" height="71.34" fill="#e63a27" stroke="#a8291b" stroke-width="0.45"/>
<line x1="244.35" y1="188.16" x2="244.35" y2="183.65" stroke="#5a5a5a" stroke-width="0.5" />
<circle cx="244.35" cy="183.65" r="0.95" fill="#ffffff" stroke="#444444" stroke-width="0.45"/>
<circle cx="243.45" cy="186.81" r="0.95" fill="#ffffff" stroke="#444444" stroke-width="0.45"/>
<circle cx="245.25" cy="189.97" r="0.95" fill="#ffffff" stroke="#444444" stroke-width="0.45"/>
<text x="0" y="0" font-size="7.6" text-anchor="end" fill="#231f20" stroke="#231f20" stroke-width="0.12" transform="translate(245.55,266.40) rotate(-45)">Dakar</text>
<rect x="256.30" y="253.63" width="4.60" height="5.87" fill="#1f5a9b" stroke="#173b66" stroke-width="0.45"/>
<line x1="258.60" y1="253.63" x2="258.60" y2="252.46" stroke="#5a5a5a" stroke-width="0.5" />
<circle cx="258.60" cy="252.46" r="0.95" fill="#ffffff" stroke="#444444" stroke-width="0.45"/>
<circle cx="257.70" cy="253.72" r="0.95" fill="#ffffff" stroke="#444444" stroke-width="0.45"/>
<circle cx="259.50" cy="254.62" r="0.95" fill="#ffffff" stroke="#444444" stroke-width="0.45"/>
<rect x="260.90" y="209.84" width="4.60" height="49.66" fill="#e63a27" stroke="#a8291b" stroke-width="0.45"/>
<line x1="263.20" y1="209.84" x2="263.20" y2="203.97" stroke="#5a5a5a" stroke-width="0.5" />
<circle cx="263.20" cy="203.97" r="0.95" fill="#ffffff" stroke="#444444" stroke-width="0.45"/>
<circle cx="262.30" cy="210.29" r="0.95" fill="#ffffff" stroke="#444444" stroke-width="0.45"/>
<circle cx="264.10" cy="215.25" r="0.95" fill="#ffffff" stroke="#444444" stroke-width="0.45"/>
<text x="0" y="0" font-size="7.6" text-anchor="end" fill="#231f20" stroke="#231f20" stroke-width="0.12" transform="translate(264.40,266.40) rotate(-45)">INS</text>
<rect x="275.15" y="257.24" width="4.60" height="2.26" fill="#1f5a9b" stroke="#173b66" stroke-width="0.45"/>
<line x1="277.45" y1="257.24" x2="277.45" y2="256.43" stroke="#5a5a5a" stroke-width="0.5" />
<circle cx="277.45" cy="256.43" r="0.95" fill="#ffffff" stroke="#444444" stroke-width="0.45"/>
<circle cx="276.55" cy="257.33" r="0.95" fill="#ffffff" stroke="#444444" stroke-width="0.45"/>
<circle cx="278.35" cy="257.87" r="0.95" fill="#ffffff" stroke="#444444" stroke-width="0.45"/>
<rect x="279.75" y="209.84" width="4.60" height="49.66" fill="#e63a27" stroke="#a8291b" stroke-width="0.45"/>
<line x1="282.05" y1="209.84" x2="282.05" y2="203.97" stroke="#5a5a5a" stroke-width="0.5" />
<circle cx="282.05" cy="203.97" r="0.95" fill="#ffffff" stroke="#444444" stroke-width="0.45"/>
<circle cx="281.15" cy="209.84" r="0.95" fill="#ffffff" stroke="#444444" stroke-width="0.45"/>
<circle cx="282.95" cy="215.25" r="0.95" fill="#ffffff" stroke="#444444" stroke-width="0.45"/>
<text x="0" y="0" font-size="7.6" text-anchor="end" fill="#231f20" stroke="#231f20" stroke-width="0.12" transform="translate(283.25,266.40) rotate(-45)">INH</text>
<rect x="294.00" y="257.24" width="4.60" height="2.26" fill="#1f5a9b" stroke="#173b66" stroke-width="0.45"/>
<line x1="296.30" y1="257.24" x2="296.30" y2="256.43" stroke="#5a5a5a" stroke-width="0.5" />
<circle cx="296.30" cy="256.43" r="0.95" fill="#ffffff" stroke="#444444" stroke-width="0.45"/>
<circle cx="295.40" cy="257.33" r="0.95" fill="#ffffff" stroke="#444444" stroke-width="0.45"/>
<circle cx="297.20" cy="257.87" r="0.95" fill="#ffffff" stroke="#444444" stroke-width="0.45"/>
<rect x="298.60" y="180.04" width="4.60" height="79.46" fill="#e63a27" stroke="#a8291b" stroke-width="0.45"/>
<line x1="300.90" y1="180.04" x2="300.90" y2="178.95" stroke="#5a5a5a" stroke-width="0.5" />
<circle cx="300.90" cy="178.95" r="0.95" fill="#ffffff" stroke="#444444" stroke-width="0.45"/>
<circle cx="300.00" cy="180.04" r="0.95" fill="#ffffff" stroke="#444444" stroke-width="0.45"/>
<circle cx="301.80" cy="180.76" r="0.95" fill="#ffffff" stroke="#444444" stroke-width="0.45"/>
<text x="0" y="0" font-size="7.6" text-anchor="end" fill="#231f20" stroke="#231f20" stroke-width="0.12" transform="translate(302.10,266.40) rotate(-45)">M185D</text>
<rect x="312.85" y="252.28" width="4.60" height="7.22" fill="#1f5a9b" stroke="#173b66" stroke-width="0.45"/>
<line x1="315.15" y1="252.28" x2="315.15" y2="251.10" stroke="#5a5a5a" stroke-width="0.5" />
<circle cx="315.15" cy="251.10" r="0.95" fill="#ffffff" stroke="#444444" stroke-width="0.45"/>
<circle cx="314.25" cy="252.46" r="0.95" fill="#ffffff" stroke="#444444" stroke-width="0.45"/>
<circle cx="316.05" cy="253.18" r="0.95" fill="#ffffff" stroke="#444444" stroke-width="0.45"/>
<rect x="317.45" y="213.00" width="4.60" height="46.50" fill="#e63a27" stroke="#a8291b" stroke-width="0.45"/>
<line x1="319.75" y1="213.00" x2="319.75" y2="207.58" stroke="#5a5a5a" stroke-width="0.5" />
<circle cx="319.75" cy="207.58" r="0.95" fill="#ffffff" stroke="#444444" stroke-width="0.45"/>
<circle cx="318.85" cy="213.45" r="0.95" fill="#ffffff" stroke="#444444" stroke-width="0.45"/>
<circle cx="320.65" cy="217.51" r="0.95" fill="#ffffff" stroke="#444444" stroke-width="0.45"/>
<text x="0" y="0" font-size="7.6" text-anchor="end" fill="#231f20" stroke="#231f20" stroke-width="0.12" transform="translate(320.95,266.40) rotate(-45)">Kouma</text>
<line x1="217.40" y1="175.20" x2="228.50" y2="175.20" stroke="#5a5a5a" stroke-width="0.8" />
<line x1="236.25" y1="181.00" x2="247.35" y2="181.00" stroke="#5a5a5a" stroke-width="0.8" />
<line x1="255.10" y1="201.20" x2="266.20" y2="201.20" stroke="#5a5a5a" stroke-width="0.8" />
<line x1="273.95" y1="199.30" x2="285.05" y2="199.30" stroke="#5a5a5a" stroke-width="0.8" />
<line x1="292.80" y1="175.20" x2="303.90" y2="175.20" stroke="#5a5a5a" stroke-width="0.8" />
<line x1="311.65" y1="203.30" x2="322.75" y2="203.30" stroke="#5a5a5a" stroke-width="0.8" />
<line x1="218.90" y1="169.40" x2="319.80" y2="169.40" stroke="#777" stroke-width="0.8" />
<text x="250.20" y="167.00" font-size="7.9" text-anchor="start" fill="#231f20" stroke="#231f20" stroke-width="0.12" ><tspan font-style="italic">P</tspan> &lt; 0.0001</text>
<text x="271.20" y="297.30" font-size="7.9" text-anchor="middle" fill="#231f20" stroke="#231f20" stroke-width="0.12" >YFV strains</text>
<text x="0" y="0" font-size="7.9" text-anchor="middle" fill="#231f20" stroke="#231f20" stroke-width="0.12" transform="translate(197.04,215.10) rotate(-90)">Infection (%)</text>
<text x="331.8" y="156.6" font-size="11" font-weight="bold" fill="#000">g</text>
<line x1="359.60" y1="169.20" x2="359.60" y2="259.50" stroke="#4d4d4d" stroke-width="0.8" />
<line x1="357.00" y1="259.50" x2="359.60" y2="259.50" stroke="#4d4d4d" stroke-width="0.8" />
<text x="354.30" y="261.87" font-size="7.9" text-anchor="end" fill="#231f20" stroke="#231f20" stroke-width="0.12" >0</text>
<line x1="357.00" y1="241.44" x2="359.60" y2="241.44" stroke="#4d4d4d" stroke-width="0.8" />
<text x="354.30" y="243.81" font-size="7.9" text-anchor="end" fill="#231f20" stroke="#231f20" stroke-width="0.12" >20</text>
<line x1="357.00" y1="223.38" x2="359.60" y2="223.38" stroke="#4d4d4d" stroke-width="0.8" />
<text x="354.30" y="225.75" font-size="7.9" text-anchor="end" fill="#231f20" stroke="#231f20" stroke-width="0.12" >40</text>
<line x1="357.00" y1="205.32" x2="359.60" y2="205.32" stroke="#4d4d4d" stroke-width="0.8" />
<text x="354.30" y="207.69" font-size="7.9" text-anchor="end" fill="#231f20" stroke="#231f20" stroke-width="0.12" >60</text>
<line x1="357.00" y1="187.26" x2="359.60" y2="187.26" stroke="#4d4d4d" stroke-width="0.8" />
<text x="354.30" y="189.63" font-size="7.9" text-anchor="end" fill="#231f20" stroke="#231f20" stroke-width="0.12" >80</text>
<line x1="357.00" y1="169.20" x2="359.60" y2="169.20" stroke="#4d4d4d" stroke-width="0.8" />
<text x="354.30" y="171.57" font-size="7.9" text-anchor="end" fill="#231f20" stroke="#231f20" stroke-width="0.12" >100</text>
<line x1="359.60" y1="259.50" x2="436.10" y2="259.50" stroke="#6e6e6e" stroke-width="0.8" />
<rect x="362.40" y="258.60" width="4.90" height="0.90" fill="#1f5a9b" stroke="#173b66" stroke-width="0.45"/>
<circle cx="364.85" cy="258.42" r="0.95" fill="#ffffff" stroke="#444444" stroke-width="0.45"/>
<circle cx="363.95" cy="258.69" r="0.95" fill="#ffffff" stroke="#444444" stroke-width="0.45"/>
<circle cx="365.75" cy="258.87" r="0.95" fill="#ffffff" stroke="#444444" stroke-width="0.45"/>
<rect x="367.30" y="177.33" width="4.90" height="82.17" fill="#e63a27" stroke="#a8291b" stroke-width="0.45"/>
<line x1="369.75" y1="177.33" x2="369.75" y2="175.07" stroke="#5a5a5a" stroke-width="0.5" />
<circle cx="369.75" cy="175.07" r="0.95" fill="#ffffff" stroke="#444444" stroke-width="0.45"/>
<circle cx="368.85" cy="177.33" r="0.95" fill="#ffffff" stroke="#444444" stroke-width="0.45"/>
<circle cx="370.65" cy="178.68" r="0.95" fill="#ffffff" stroke="#444444" stroke-width="0.45"/>
<text x="0" y="0" font-size="7.35" text-anchor="end" fill="#231f20" stroke="#231f20" stroke-width="0.12" transform="translate(371.80,267.80) rotate(-45)">BANV</text>
<rect x="383.05" y="256.79" width="4.90" height="2.71" fill="#1f5a9b" stroke="#173b66" stroke-width="0.45"/>
<line x1="385.50" y1="256.79" x2="385.50" y2="256.07" stroke="#5a5a5a" stroke-width="0.5" />
<circle cx="385.50" cy="256.07" r="0.95" fill="#ffffff" stroke="#444444" stroke-width="0.45"/>
<circle cx="384.60" cy="256.97" r="0.95" fill="#ffffff" stroke="#444444" stroke-width="0.45"/>
<circle cx="386.40" cy="257.33" r="0.95" fill="#ffffff" stroke="#444444" stroke-width="0.45"/>
<rect x="387.95" y="189.52" width="4.90" height="69.98" fill="#e63a27" stroke="#a8291b" stroke-width="0.45"/>
<line x1="390.40" y1="189.52" x2="390.40" y2="187.26" stroke="#5a5a5a" stroke-width="0.5" />
<circle cx="390.40" cy="187.26" r="0.95" fill="#ffffff" stroke="#444444" stroke-width="0.45"/>
<circle cx="389.50" cy="189.52" r="0.95" fill="#ffffff" stroke="#444444" stroke-width="0.45"/>
<circle cx="391.30" cy="190.42" r="0.95" fill="#ffffff" stroke="#444444" stroke-width="0.45"/>
<text x="0" y="0" font-size="7.35" text-anchor="end" fill="#231f20" stroke="#231f20" stroke-width="0.12" transform="translate(392.45,267.80) rotate(-45)">UGSV</text>
<rect x="403.70" y="252.28" width="4.90" height="7.22" fill="#1f5a9b" stroke="#173b66" stroke-width="0.45"/>
<line x1="406.15" y1="252.28" x2="406.15" y2="249.57" stroke="#5a5a5a" stroke-width="0.5" />
<circle cx="406.15" cy="249.57" r="0.95" fill="#ffffff" stroke="#444444" stroke-width="0.45"/>
<circle cx="405.25" cy="253.18" r="0.95" fill="#ffffff" stroke="#444444" stroke-width="0.45"/>
<circle cx="407.05" cy="254.08" r="0.95" fill="#ffffff" stroke="#444444" stroke-width="0.45"/>
<rect x="408.60" y="200.81" width="4.90" height="58.69" fill="#e63a27" stroke="#a8291b" stroke-width="0.45"/>
<line x1="411.05" y1="200.81" x2="411.05" y2="194.03" stroke="#5a5a5a" stroke-width="0.5" />
<circle cx="411.05" cy="194.03" r="0.95" fill="#ffffff" stroke="#444444" stroke-width="0.45"/>
<circle cx="410.15" cy="201.71" r="0.95" fill="#ffffff" stroke="#444444" stroke-width="0.45"/>
<circle cx="411.95" cy="207.13" r="0.95" fill="#ffffff" stroke="#444444" stroke-width="0.45"/>
<text x="0" y="0" font-size="7.35" text-anchor="end" fill="#231f20" stroke="#231f20" stroke-width="0.12" transform="translate(413.10,267.80) rotate(-45)">WESSV</text>
<rect x="424.35" y="256.34" width="4.90" height="3.16" fill="#1f5a9b" stroke="#173b66" stroke-width="0.45"/>
<line x1="426.80" y1="256.34" x2="426.80" y2="255.35" stroke="#5a5a5a" stroke-width="0.5" />
<circle cx="426.80" cy="255.35" r="0.95" fill="#ffffff" stroke="#444444" stroke-width="0.45"/>
<circle cx="425.90" cy="256.61" r="0.95" fill="#ffffff" stroke="#444444" stroke-width="0.45"/>
<circle cx="427.70" cy="256.97" r="0.95" fill="#ffffff" stroke="#444444" stroke-width="0.45"/>
<rect x="429.25" y="251.82" width="4.90" height="7.68" fill="#e63a27" stroke="#a8291b" stroke-width="0.45"/>
<line x1="431.70" y1="251.82" x2="431.70" y2="250.47" stroke="#5a5a5a" stroke-width="0.5" />
<circle cx="431.70" cy="250.47" r="0.95" fill="#ffffff" stroke="#444444" stroke-width="0.45"/>
<circle cx="430.80" cy="251.82" r="0.95" fill="#ffffff" stroke="#444444" stroke-width="0.45"/>
<circle cx="432.60" cy="253.00" r="0.95" fill="#ffffff" stroke="#444444" stroke-width="0.45"/>
<text x="0" y="0" font-size="7.35" text-anchor="end" fill="#231f20" stroke="#231f20" stroke-width="0.12" transform="translate(433.75,267.80) rotate(-45)">ENTV</text>
<line x1="361.90" y1="171.30" x2="373.00" y2="171.30" stroke="#5a5a5a" stroke-width="0.8" />
<line x1="382.55" y1="182.80" x2="393.65" y2="182.80" stroke="#5a5a5a" stroke-width="0.8" />
<line x1="403.20" y1="190.40" x2="414.30" y2="190.40" stroke="#5a5a5a" stroke-width="0.8" />
<line x1="361.90" y1="169.40" x2="416.20" y2="169.40" stroke="#777" stroke-width="0.8" />
<text x="372.10" y="167.00" font-size="7.9" text-anchor="start" fill="#231f20" stroke="#231f20" stroke-width="0.12" ><tspan font-style="italic">P</tspan> &lt; 0.0001</text>
<text x="429.20" y="240.00" font-size="7.9" text-anchor="middle" fill="#231f20" stroke="#231f20" stroke-width="0.12" >NS</text>
<line x1="423.60" y1="242.10" x2="434.60" y2="242.10" stroke="#444" stroke-width="0.9" />
<line x1="361.70" y1="287.90" x2="416.10" y2="287.90" stroke="#5a5a5a" stroke-width="0.8" />
<text x="389.00" y="296.80" font-size="7.9" text-anchor="middle" fill="#231f20" stroke="#231f20" stroke-width="0.12" >YFV complex viruses</text>
<text x="0" y="0" font-size="7.9" text-anchor="middle" fill="#231f20" stroke="#231f20" stroke-width="0.12" transform="translate(339.14,213.50) rotate(-90)">Infection (%)</text>
<text x="443.0" y="156.2" font-size="11" font-weight="bold" fill="#000">h</text>
<line x1="471.20" y1="169.20" x2="471.20" y2="259.50" stroke="#4d4d4d" stroke-width="0.8" />
<line x1="468.60" y1="259.50" x2="471.20" y2="259.50" stroke="#4d4d4d" stroke-width="0.8" />
<text x="465.70" y="261.87" font-size="7.9" text-anchor="end" fill="#231f20" stroke="#231f20" stroke-width="0.12" >0</text>
<line x1="468.60" y1="241.44" x2="471.20" y2="241.44" stroke="#4d4d4d" stroke-width="0.8" />
<text x="465.70" y="243.81" font-size="7.9" text-anchor="end" fill="#231f20" stroke="#231f20" stroke-width="0.12" >20</text>
<line x1="468.60" y1="223.38" x2="471.20" y2="223.38" stroke="#4d4d4d" stroke-width="0.8" />
<text x="465.70" y="225.75" font-size="7.9" text-anchor="end" fill="#231f20" stroke="#231f20" stroke-width="0.12" >40</text>
<line x1="468.60" y1="205.32" x2="471.20" y2="205.32" stroke="#4d4d4d" stroke-width="0.8" />
<text x="465.70" y="207.69" font-size="7.9" text-anchor="end" fill="#231f20" stroke="#231f20" stroke-width="0.12" >60</text>
<line x1="468.60" y1="187.26" x2="471.20" y2="187.26" stroke="#4d4d4d" stroke-width="0.8" />
<text x="465.70" y="189.63" font-size="7.9" text-anchor="end" fill="#231f20" stroke="#231f20" stroke-width="0.12" >80</text>
<line x1="468.60" y1="169.20" x2="471.20" y2="169.20" stroke="#4d4d4d" stroke-width="0.8" />
<text x="465.70" y="171.57" font-size="7.9" text-anchor="end" fill="#231f20" stroke="#231f20" stroke-width="0.12" >100</text>
<line x1="471.20" y1="259.50" x2="589.40" y2="259.50" stroke="#6e6e6e" stroke-width="0.8" />
<rect x="473.70" y="254.08" width="4.70" height="5.42" fill="#1f5a9b" stroke="#173b66" stroke-width="0.45"/>
<line x1="476.05" y1="254.08" x2="476.05" y2="249.12" stroke="#5a5a5a" stroke-width="0.5" />
<circle cx="476.05" cy="249.12" r="0.95" fill="#ffffff" stroke="#444444" stroke-width="0.45"/>
<circle cx="475.15" cy="254.99" r="0.95" fill="#ffffff" stroke="#444444" stroke-width="0.45"/>
<circle cx="476.95" cy="257.24" r="0.95" fill="#ffffff" stroke="#444444" stroke-width="0.45"/>
<rect x="478.40" y="252.73" width="4.70" height="6.77" fill="#e63a27" stroke="#a8291b" stroke-width="0.45"/>
<line x1="480.75" y1="252.73" x2="480.75" y2="248.66" stroke="#5a5a5a" stroke-width="0.5" />
<circle cx="480.75" cy="248.66" r="0.95" fill="#ffffff" stroke="#444444" stroke-width="0.45"/>
<circle cx="479.85" cy="253.63" r="0.95" fill="#ffffff" stroke="#444444" stroke-width="0.45"/>
<circle cx="481.65" cy="255.89" r="0.95" fill="#ffffff" stroke="#444444" stroke-width="0.45"/>
<line x1="478.40" y1="259.50" x2="478.40" y2="262.10" stroke="#555" stroke-width="0.6" />
<text x="0" y="0" font-size="7.65" text-anchor="end" fill="#231f20" stroke="#231f20" stroke-width="0.12" transform="translate(482.70,267.90) rotate(-45)">DENV1</text>
<rect x="488.55" y="250.92" width="4.70" height="8.58" fill="#1f5a9b" stroke="#173b66" stroke-width="0.45"/>
<line x1="490.90" y1="250.92" x2="490.90" y2="245.05" stroke="#5a5a5a" stroke-width="0.5" />
<circle cx="490.90" cy="245.05" r="0.95" fill="#ffffff" stroke="#444444" stroke-width="0.45"/>
<circle cx="490.00" cy="252.28" r="0.95" fill="#ffffff" stroke="#444444" stroke-width="0.45"/>
<circle cx="491.80" cy="254.99" r="0.95" fill="#ffffff" stroke="#444444" stroke-width="0.45"/>
<rect x="493.25" y="250.92" width="4.70" height="8.58" fill="#e63a27" stroke="#a8291b" stroke-width="0.45"/>
<line x1="495.60" y1="250.92" x2="495.60" y2="247.31" stroke="#5a5a5a" stroke-width="0.5" />
<circle cx="495.60" cy="247.31" r="0.95" fill="#ffffff" stroke="#444444" stroke-width="0.45"/>
<circle cx="494.70" cy="251.37" r="0.95" fill="#ffffff" stroke="#444444" stroke-width="0.45"/>
<circle cx="496.50" cy="254.08" r="0.95" fill="#ffffff" stroke="#444444" stroke-width="0.45"/>
<line x1="493.25" y1="259.50" x2="493.25" y2="262.10" stroke="#555" stroke-width="0.6" />
<text x="0" y="0" font-size="7.65" text-anchor="end" fill="#231f20" stroke="#231f20" stroke-width="0.12" transform="translate(497.55,267.90) rotate(-45)">DENV2</text>
<rect x="503.40" y="259.05" width="4.70" height="0.45" fill="#1f5a9b" stroke="#173b66" stroke-width="0.45"/>
<circle cx="505.75" cy="258.78" r="0.95" fill="#ffffff" stroke="#444444" stroke-width="0.45"/>
<circle cx="504.85" cy="259.05" r="0.95" fill="#ffffff" stroke="#444444" stroke-width="0.45"/>
<circle cx="506.65" cy="259.23" r="0.95" fill="#ffffff" stroke="#444444" stroke-width="0.45"/>
<rect x="508.10" y="258.78" width="4.70" height="0.72" fill="#e63a27" stroke="#a8291b" stroke-width="0.45"/>
<line x1="510.45" y1="258.78" x2="510.45" y2="258.24" stroke="#5a5a5a" stroke-width="0.5" />
<circle cx="510.45" cy="258.24" r="0.95" fill="#ffffff" stroke="#444444" stroke-width="0.45"/>
<circle cx="509.55" cy="258.87" r="0.95" fill="#ffffff" stroke="#444444" stroke-width="0.45"/>
<circle cx="511.35" cy="259.14" r="0.95" fill="#ffffff" stroke="#444444" stroke-width="0.45"/>
<line x1="508.10" y1="259.50" x2="508.10" y2="262.10" stroke="#555" stroke-width="0.6" />
<text x="0" y="0" font-size="7.65" text-anchor="end" fill="#231f20" stroke="#231f20" stroke-width="0.12" transform="translate(512.40,267.90) rotate(-45)">DENV3</text>
<rect x="518.25" y="257.24" width="4.70" height="2.26" fill="#1f5a9b" stroke="#173b66" stroke-width="0.45"/>
<line x1="520.60" y1="257.24" x2="520.60" y2="254.53" stroke="#5a5a5a" stroke-width="0.5" />
<circle cx="520.60" cy="254.53" r="0.95" fill="#ffffff" stroke="#444444" stroke-width="0.45"/>
<circle cx="519.70" cy="258.15" r="0.95" fill="#ffffff" stroke="#444444" stroke-width="0.45"/>
<circle cx="521.50" cy="258.96" r="0.95" fill="#ffffff" stroke="#444444" stroke-width="0.45"/>
<rect x="522.95" y="254.99" width="4.70" height="4.51" fill="#e63a27" stroke="#a8291b" stroke-width="0.45"/>
<line x1="525.30" y1="254.99" x2="525.30" y2="251.37" stroke="#5a5a5a" stroke-width="0.5" />
<circle cx="525.30" cy="251.37" r="0.95" fill="#ffffff" stroke="#444444" stroke-width="0.45"/>
<circle cx="524.40" cy="255.89" r="0.95" fill="#ffffff" stroke="#444444" stroke-width="0.45"/>
<circle cx="526.20" cy="257.69" r="0.95" fill="#ffffff" stroke="#444444" stroke-width="0.45"/>
<line x1="522.95" y1="259.50" x2="522.95" y2="262.10" stroke="#555" stroke-width="0.6" />
<text x="0" y="0" font-size="7.65" text-anchor="end" fill="#231f20" stroke="#231f20" stroke-width="0.12" transform="translate(527.25,267.90) rotate(-45)">DENV4</text>
<rect x="533.10" y="256.34" width="4.70" height="3.16" fill="#1f5a9b" stroke="#173b66" stroke-width="0.45"/>
<line x1="535.45" y1="256.34" x2="535.45" y2="253.18" stroke="#5a5a5a" stroke-width="0.5" />
<circle cx="535.45" cy="253.18" r="0.95" fill="#ffffff" stroke="#444444" stroke-width="0.45"/>
<circle cx="534.55" cy="256.79" r="0.95" fill="#ffffff" stroke="#444444" stroke-width="0.45"/>
<circle cx="536.35" cy="258.96" r="0.95" fill="#ffffff" stroke="#444444" stroke-width="0.45"/>
<rect x="537.80" y="248.21" width="4.70" height="11.29" fill="#e63a27" stroke="#a8291b" stroke-width="0.45"/>
<line x1="540.15" y1="248.21" x2="540.15" y2="241.44" stroke="#5a5a5a" stroke-width="0.5" />
<circle cx="540.15" cy="241.44" r="0.95" fill="#ffffff" stroke="#444444" stroke-width="0.45"/>
<circle cx="539.25" cy="249.57" r="0.95" fill="#ffffff" stroke="#444444" stroke-width="0.45"/>
<circle cx="541.05" cy="253.18" r="0.95" fill="#ffffff" stroke="#444444" stroke-width="0.45"/>
<line x1="537.80" y1="259.50" x2="537.80" y2="262.10" stroke="#555" stroke-width="0.6" />
<text x="0" y="0" font-size="7.65" text-anchor="end" fill="#231f20" stroke="#231f20" stroke-width="0.12" transform="translate(542.10,267.90) rotate(-45)">LGTV</text>
<rect x="547.95" y="257.24" width="4.70" height="2.26" fill="#1f5a9b" stroke="#173b66" stroke-width="0.45"/>
<line x1="550.30" y1="257.24" x2="550.30" y2="256.34" stroke="#5a5a5a" stroke-width="0.5" />
<circle cx="550.30" cy="256.34" r="0.95" fill="#ffffff" stroke="#444444" stroke-width="0.45"/>
<circle cx="549.40" cy="257.24" r="0.95" fill="#ffffff" stroke="#444444" stroke-width="0.45"/>
<circle cx="551.20" cy="258.15" r="0.95" fill="#ffffff" stroke="#444444" stroke-width="0.45"/>
<rect x="552.65" y="256.34" width="4.70" height="3.16" fill="#e63a27" stroke="#a8291b" stroke-width="0.45"/>
<circle cx="555.00" cy="255.89" r="0.95" fill="#ffffff" stroke="#444444" stroke-width="0.45"/>
<circle cx="554.10" cy="256.34" r="0.95" fill="#ffffff" stroke="#444444" stroke-width="0.45"/>
<circle cx="555.90" cy="256.79" r="0.95" fill="#ffffff" stroke="#444444" stroke-width="0.45"/>
<line x1="552.65" y1="259.50" x2="552.65" y2="262.10" stroke="#555" stroke-width="0.6" />
<text x="0" y="0" font-size="7.65" text-anchor="end" fill="#231f20" stroke="#231f20" stroke-width="0.12" transform="translate(556.95,267.90) rotate(-45)">WNV-NY99</text>
<rect x="562.80" y="251.37" width="4.70" height="8.13" fill="#1f5a9b" stroke="#173b66" stroke-width="0.45"/>
<line x1="565.15" y1="251.37" x2="565.15" y2="247.76" stroke="#5a5a5a" stroke-width="0.5" />
<circle cx="565.15" cy="247.76" r="0.95" fill="#ffffff" stroke="#444444" stroke-width="0.45"/>
<circle cx="564.25" cy="251.82" r="0.95" fill="#ffffff" stroke="#444444" stroke-width="0.45"/>
<circle cx="566.05" cy="254.08" r="0.95" fill="#ffffff" stroke="#444444" stroke-width="0.45"/>
<rect x="567.50" y="247.31" width="4.70" height="12.19" fill="#e63a27" stroke="#a8291b" stroke-width="0.45"/>
<line x1="569.85" y1="247.31" x2="569.85" y2="241.89" stroke="#5a5a5a" stroke-width="0.5" />
<circle cx="569.85" cy="241.89" r="0.95" fill="#ffffff" stroke="#444444" stroke-width="0.45"/>
<circle cx="568.95" cy="247.76" r="0.95" fill="#ffffff" stroke="#444444" stroke-width="0.45"/>
<circle cx="570.75" cy="251.37" r="0.95" fill="#ffffff" stroke="#444444" stroke-width="0.45"/>
<line x1="567.50" y1="259.50" x2="567.50" y2="262.10" stroke="#555" stroke-width="0.6" />
<text x="0" y="0" font-size="7.65" text-anchor="end" fill="#231f20" stroke="#231f20" stroke-width="0.12" transform="translate(571.80,267.90) rotate(-45)">KUNV</text>
<rect x="577.65" y="259.05" width="4.70" height="0.45" fill="#1f5a9b" stroke="#173b66" stroke-width="0.45"/>
<circle cx="580.00" cy="258.78" r="0.95" fill="#ffffff" stroke="#444444" stroke-width="0.45"/>
<circle cx="579.10" cy="259.05" r="0.95" fill="#ffffff" stroke="#444444" stroke-width="0.45"/>
<circle cx="580.90" cy="259.23" r="0.95" fill="#ffffff" stroke="#444444" stroke-width="0.45"/>
<rect x="582.35" y="258.60" width="4.70" height="0.90" fill="#e63a27" stroke="#a8291b" stroke-width="0.45"/>
<line x1="584.70" y1="258.60" x2="584.70" y2="258.06" stroke="#5a5a5a" stroke-width="0.5" />
<circle cx="584.70" cy="258.06" r="0.95" fill="#ffffff" stroke="#444444" stroke-width="0.45"/>
<circle cx="583.80" cy="258.78" r="0.95" fill="#ffffff" stroke="#444444" stroke-width="0.45"/>
<circle cx="585.60" cy="259.05" r="0.95" fill="#ffffff" stroke="#444444" stroke-width="0.45"/>
<line x1="582.35" y1="259.50" x2="582.35" y2="262.10" stroke="#555" stroke-width="0.6" />
<text x="0" y="0" font-size="7.65" text-anchor="end" fill="#231f20" stroke="#231f20" stroke-width="0.12" transform="translate(586.65,267.90) rotate(-45)">ZIKV</text>
<text x="478.20" y="203.30" font-size="7.9" text-anchor="middle" fill="#231f20" stroke="#231f20" stroke-width="0.12" >NS</text>
<line x1="472.90" y1="205.10" x2="483.50" y2="205.10" stroke="#444" stroke-width="0.9" />
<text x="493.05" y="203.30" font-size="7.9" text-anchor="middle" fill="#231f20" stroke="#231f20" stroke-width="0.12" >NS</text>
<line x1="487.75" y1="205.10" x2="498.35" y2="205.10" stroke="#444" stroke-width="0.9" />
<text x="507.90" y="203.30" font-size="7.9" text-anchor="middle" fill="#231f20" stroke="#231f20" stroke-width="0.12" >NS</text>
<line x1="502.60" y1="205.10" x2="513.20" y2="205.10" stroke="#444" stroke-width="0.9" />
<text x="522.75" y="203.30" font-size="7.9" text-anchor="middle" fill="#231f20" stroke="#231f20" stroke-width="0.12" >NS</text>
<line x1="517.45" y1="205.10" x2="528.05" y2="205.10" stroke="#444" stroke-width="0.9" />
<text x="537.60" y="203.30" font-size="7.9" text-anchor="middle" fill="#231f20" stroke="#231f20" stroke-width="0.12" >NS</text>
<line x1="532.30" y1="205.10" x2="542.90" y2="205.10" stroke="#444" stroke-width="0.9" />
<text x="552.45" y="203.30" font-size="7.9" text-anchor="middle" fill="#231f20" stroke="#231f20" stroke-width="0.12" >NS</text>
<line x1="547.15" y1="205.10" x2="557.75" y2="205.10" stroke="#444" stroke-width="0.9" />
<text x="567.30" y="203.30" font-size="7.9" text-anchor="middle" fill="#231f20" stroke="#231f20" stroke-width="0.12" >NS</text>
<line x1="562.00" y1="205.10" x2="572.60" y2="205.10" stroke="#444" stroke-width="0.9" />
<text x="582.15" y="203.30" font-size="7.9" text-anchor="middle" fill="#231f20" stroke="#231f20" stroke-width="0.12" >NS</text>
<line x1="576.85" y1="205.10" x2="587.45" y2="205.10" stroke="#444" stroke-width="0.9" />
<text x="0" y="0" font-size="7.9" text-anchor="middle" fill="#231f20" stroke="#231f20" stroke-width="0.12" transform="translate(449.64,212.60) rotate(-90)">Infection (%)</text>
<text x="595.5" y="156.2" font-size="11" font-weight="bold" fill="#000">i</text>
<line x1="622.40" y1="169.20" x2="622.40" y2="259.50" stroke="#4d4d4d" stroke-width="0.8" />
<line x1="619.80" y1="259.50" x2="622.40" y2="259.50" stroke="#4d4d4d" stroke-width="0.8" />
<text x="617.00" y="261.87" font-size="7.9" text-anchor="end" fill="#231f20" stroke="#231f20" stroke-width="0.12" >0</text>
<line x1="619.80" y1="241.44" x2="622.40" y2="241.44" stroke="#4d4d4d" stroke-width="0.8" />
<text x="617.00" y="243.81" font-size="7.9" text-anchor="end" fill="#231f20" stroke="#231f20" stroke-width="0.12" >20</text>
<line x1="619.80" y1="223.38" x2="622.40" y2="223.38" stroke="#4d4d4d" stroke-width="0.8" />
<text x="617.00" y="225.75" font-size="7.9" text-anchor="end" fill="#231f20" stroke="#231f20" stroke-width="0.12" >40</text>
<line x1="619.80" y1="205.32" x2="622.40" y2="205.32" stroke="#4d4d4d" stroke-width="0.8" />
<text x="617.00" y="207.69" font-size="7.9" text-anchor="end" fill="#231f20" stroke="#231f20" stroke-width="0.12" >60</text>
<line x1="619.80" y1="187.26" x2="622.40" y2="187.26" stroke="#4d4d4d" stroke-width="0.8" />
<text x="617.00" y="189.63" font-size="7.9" text-anchor="end" fill="#231f20" stroke="#231f20" stroke-width="0.12" >80</text>
<line x1="619.80" y1="169.20" x2="622.40" y2="169.20" stroke="#4d4d4d" stroke-width="0.8" />
<text x="617.00" y="171.57" font-size="7.9" text-anchor="end" fill="#231f20" stroke="#231f20" stroke-width="0.12" >100</text>
<line x1="622.40" y1="259.50" x2="684.00" y2="259.50" stroke="#6e6e6e" stroke-width="0.8" />
<rect x="626.10" y="259.23" width="4.70" height="0.35" fill="#1f5a9b" stroke="#173b66" stroke-width="0.45"/>
<circle cx="628.45" cy="259.05" r="0.95" fill="#ffffff" stroke="#444444" stroke-width="0.45"/>
<circle cx="627.55" cy="259.23" r="0.95" fill="#ffffff" stroke="#444444" stroke-width="0.45"/>
<circle cx="629.35" cy="259.32" r="0.95" fill="#ffffff" stroke="#444444" stroke-width="0.45"/>
<rect x="630.80" y="259.23" width="4.70" height="0.35" fill="#e63a27" stroke="#a8291b" stroke-width="0.45"/>
<circle cx="633.15" cy="259.05" r="0.95" fill="#ffffff" stroke="#444444" stroke-width="0.45"/>
<circle cx="632.25" cy="259.23" r="0.95" fill="#ffffff" stroke="#444444" stroke-width="0.45"/>
<circle cx="634.05" cy="259.32" r="0.95" fill="#ffffff" stroke="#444444" stroke-width="0.45"/>
<line x1="630.80" y1="259.50" x2="630.80" y2="262.10" stroke="#555" stroke-width="0.6" />
<text x="0" y="0" font-size="7.65" text-anchor="end" fill="#231f20" stroke="#231f20" stroke-width="0.12" transform="translate(635.10,267.90) rotate(-45)">RRV</text>
<rect x="641.60" y="258.60" width="4.70" height="0.90" fill="#1f5a9b" stroke="#173b66" stroke-width="0.45"/>
<line x1="643.95" y1="258.60" x2="643.95" y2="258.06" stroke="#5a5a5a" stroke-width="0.5" />
<circle cx="643.95" cy="258.06" r="0.95" fill="#ffffff" stroke="#444444" stroke-width="0.45"/>
<circle cx="643.05" cy="258.60" r="0.95" fill="#ffffff" stroke="#444444" stroke-width="0.45"/>
<circle cx="644.85" cy="259.05" r="0.95" fill="#ffffff" stroke="#444444" stroke-width="0.45"/>
<rect x="646.30" y="256.34" width="4.70" height="3.16" fill="#e63a27" stroke="#a8291b" stroke-width="0.45"/>
<line x1="648.65" y1="256.34" x2="648.65" y2="254.08" stroke="#5a5a5a" stroke-width="0.5" />
<circle cx="648.65" cy="254.08" r="0.95" fill="#ffffff" stroke="#444444" stroke-width="0.45"/>
<circle cx="647.75" cy="256.79" r="0.95" fill="#ffffff" stroke="#444444" stroke-width="0.45"/>
<circle cx="649.55" cy="258.15" r="0.95" fill="#ffffff" stroke="#444444" stroke-width="0.45"/>
<line x1="646.30" y1="259.50" x2="646.30" y2="262.10" stroke="#555" stroke-width="0.6" />
<text x="0" y="0" font-size="7.65" text-anchor="end" fill="#231f20" stroke="#231f20" stroke-width="0.12" transform="translate(650.60,267.90) rotate(-45)">SINV-SFV</text>
<rect x="657.10" y="256.34" width="4.70" height="3.16" fill="#1f5a9b" stroke="#173b66" stroke-width="0.45"/>
<line x1="659.45" y1="256.34" x2="659.45" y2="254.99" stroke="#5a5a5a" stroke-width="0.5" />
<circle cx="659.45" cy="254.99" r="0.95" fill="#ffffff" stroke="#444444" stroke-width="0.45"/>
<circle cx="658.55" cy="256.34" r="0.95" fill="#ffffff" stroke="#444444" stroke-width="0.45"/>
<circle cx="660.35" cy="257.69" r="0.95" fill="#ffffff" stroke="#444444" stroke-width="0.45"/>
<rect x="661.80" y="258.60" width="4.70" height="0.90" fill="#e63a27" stroke="#a8291b" stroke-width="0.45"/>
<line x1="664.15" y1="258.60" x2="664.15" y2="257.69" stroke="#5a5a5a" stroke-width="0.5" />
<circle cx="664.15" cy="257.69" r="0.95" fill="#ffffff" stroke="#444444" stroke-width="0.45"/>
<circle cx="663.25" cy="258.60" r="0.95" fill="#ffffff" stroke="#444444" stroke-width="0.45"/>
<circle cx="665.05" cy="259.05" r="0.95" fill="#ffffff" stroke="#444444" stroke-width="0.45"/>
<line x1="661.80" y1="259.50" x2="661.80" y2="262.10" stroke="#555" stroke-width="0.6" />
<text x="0" y="0" font-size="7.65" text-anchor="end" fill="#231f20" stroke="#231f20" stroke-width="0.12" transform="translate(666.10,267.90) rotate(-45)">SINV-VEEV</text>
<rect x="672.60" y="259.23" width="4.70" height="0.35" fill="#1f5a9b" stroke="#173b66" stroke-width="0.45"/>
<circle cx="674.95" cy="259.05" r="0.95" fill="#ffffff" stroke="#444444" stroke-width="0.45"/>
<circle cx="674.05" cy="259.23" r="0.95" fill="#ffffff" stroke="#444444" stroke-width="0.45"/>
<circle cx="675.85" cy="259.32" r="0.95" fill="#ffffff" stroke="#444444" stroke-width="0.45"/>
<rect x="677.30" y="259.23" width="4.70" height="0.35" fill="#e63a27" stroke="#a8291b" stroke-width="0.45"/>
<circle cx="679.65" cy="259.05" r="0.95" fill="#ffffff" stroke="#444444" stroke-width="0.45"/>
<circle cx="678.75" cy="259.23" r="0.95" fill="#ffffff" stroke="#444444" stroke-width="0.45"/>
<circle cx="680.55" cy="259.32" r="0.95" fill="#ffffff" stroke="#444444" stroke-width="0.45"/>
<line x1="677.30" y1="259.50" x2="677.30" y2="262.10" stroke="#555" stroke-width="0.6" />
<text x="0" y="0" font-size="7.65" text-anchor="end" fill="#231f20" stroke="#231f20" stroke-width="0.12" transform="translate(681.60,267.90) rotate(-45)">SINV-WEEV</text>
<text x="630.80" y="203.30" font-size="7.9" text-anchor="middle" fill="#231f20" stroke="#231f20" stroke-width="0.12" >NS</text>
<line x1="625.50" y1="205.10" x2="636.10" y2="205.10" stroke="#444" stroke-width="0.9" />
<text x="646.30" y="203.30" font-size="7.9" text-anchor="middle" fill="#231f20" stroke="#231f20" stroke-width="0.12" >NS</text>
<line x1="641.00" y1="205.10" x2="651.60" y2="205.10" stroke="#444" stroke-width="0.9" />
<text x="661.80" y="203.30" font-size="7.9" text-anchor="middle" fill="#231f20" stroke="#231f20" stroke-width="0.12" >NS</text>
<line x1="656.50" y1="205.10" x2="667.10" y2="205.10" stroke="#444" stroke-width="0.9" />
<text x="677.30" y="203.30" font-size="7.9" text-anchor="middle" fill="#231f20" stroke="#231f20" stroke-width="0.12" >NS</text>
<line x1="672.00" y1="205.10" x2="682.60" y2="205.10" stroke="#444" stroke-width="0.9" />
<text x="0" y="0" font-size="7.9" text-anchor="middle" fill="#231f20" stroke="#231f20" stroke-width="0.12" transform="translate(603.34,213.30) rotate(-90)">Infection (%)</text>
<line x1="18.00" y1="302.40" x2="676.60" y2="302.40" stroke="#555" stroke-width="0.8" />
<circle cx="277.70" cy="309.60" r="1.9" fill="#22307a" stroke="none" stroke-width="0.4"/>
<text x="282.70" y="312.30" font-size="7.9" text-anchor="start" fill="#231f20" stroke="#231f20" stroke-width="0.12" >K562 control</text>
<circle cx="349.30" cy="309.60" r="1.9" fill="#d8282a" stroke="none" stroke-width="0.4"/>
<text x="354.20" y="312.30" font-size="7.9" text-anchor="start" fill="#231f20" stroke="#231f20" stroke-width="0.12" >K562 Flag-<tspan font-style="italic">LRP4</tspan></text>
</svg></body></html>
